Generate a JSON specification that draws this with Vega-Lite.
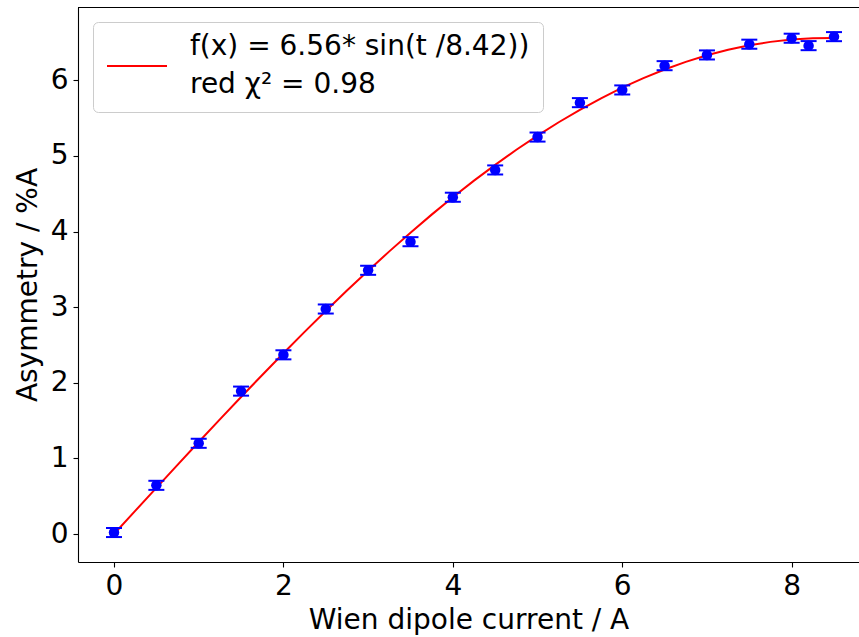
{
  "$schema": "https://vega.github.io/schema/vega-lite/v6.json",
  "width": 781,
  "height": 555,
  "autosize": "none",
  "padding": {"left": 78, "top": 7, "right": 0, "bottom": 75},
  "background": "white",
  "config": {
    "view": {"stroke": null},
    "font": "DejaVu Sans",
    "axis": {
      "domainColor": "black",
      "domainWidth": 1.1,
      "tickColor": "black",
      "tickWidth": 1.1,
      "tickSize": 5,
      "labelFont": "DejaVu Sans",
      "labelFontSize": 28,
      "labelColor": "black",
      "labelPadding": 5,
      "titleFont": "DejaVu Sans",
      "titleFontSize": 28,
      "titleFontWeight": "normal",
      "titleColor": "black",
      "grid": false
    }
  },
  "datasets": {
    "pts": [
      {"x": 0, "y": 0.02, "err": 0.06},
      {"x": 0.5, "y": 0.644, "err": 0.06},
      {"x": 1, "y": 1.2, "err": 0.06},
      {"x": 1.5, "y": 1.89, "err": 0.06},
      {"x": 2, "y": 2.37, "err": 0.06},
      {"x": 2.5, "y": 2.976, "err": 0.06},
      {"x": 3, "y": 3.488, "err": 0.06},
      {"x": 3.5, "y": 3.866, "err": 0.06},
      {"x": 4, "y": 4.454, "err": 0.06},
      {"x": 4.5, "y": 4.815, "err": 0.06},
      {"x": 5, "y": 5.25, "err": 0.06},
      {"x": 5.5, "y": 5.705, "err": 0.06},
      {"x": 6, "y": 5.873, "err": 0.06},
      {"x": 6.5, "y": 6.194, "err": 0.06},
      {"x": 7, "y": 6.336, "err": 0.06},
      {"x": 7.5, "y": 6.478, "err": 0.06},
      {"x": 8, "y": 6.557, "err": 0.06},
      {"x": 8.2, "y": 6.459, "err": 0.06},
      {"x": 8.5, "y": 6.578, "err": 0.06}
    ],
    "fit": [
      {"x": 0, "y": 0, "series": "fit"},
      {"x": 0.25, "y": 0.3058, "series": "fit"},
      {"x": 0.5, "y": 0.6111, "series": "fit"},
      {"x": 0.75, "y": 0.9148, "series": "fit"},
      {"x": 1, "y": 1.2166, "series": "fit"},
      {"x": 1.25, "y": 1.5159, "series": "fit"},
      {"x": 1.5, "y": 1.8119, "series": "fit"},
      {"x": 1.75, "y": 2.1038, "series": "fit"},
      {"x": 2, "y": 2.3913, "series": "fit"},
      {"x": 2.25, "y": 2.6734, "series": "fit"},
      {"x": 2.5, "y": 2.9498, "series": "fit"},
      {"x": 2.75, "y": 3.2198, "series": "fit"},
      {"x": 3, "y": 3.4827, "series": "fit"},
      {"x": 3.25, "y": 3.7381, "series": "fit"},
      {"x": 3.5, "y": 3.9854, "series": "fit"},
      {"x": 3.75, "y": 4.224, "series": "fit"},
      {"x": 4, "y": 4.4534, "series": "fit"},
      {"x": 4.25, "y": 4.6732, "series": "fit"},
      {"x": 4.5, "y": 4.8827, "series": "fit"},
      {"x": 4.75, "y": 5.0816, "series": "fit"},
      {"x": 5, "y": 5.2695, "series": "fit"},
      {"x": 5.25, "y": 5.446, "series": "fit"},
      {"x": 5.5, "y": 5.6105, "series": "fit"},
      {"x": 5.75, "y": 5.7629, "series": "fit"},
      {"x": 6, "y": 5.9028, "series": "fit"},
      {"x": 6.25, "y": 6.0298, "series": "fit"},
      {"x": 6.5, "y": 6.1437, "series": "fit"},
      {"x": 6.75, "y": 6.2442, "series": "fit"},
      {"x": 7, "y": 6.3312, "series": "fit"},
      {"x": 7.25, "y": 6.4044, "series": "fit"},
      {"x": 7.5, "y": 6.4636, "series": "fit"},
      {"x": 7.75, "y": 6.5088, "series": "fit"},
      {"x": 8, "y": 6.5399, "series": "fit"},
      {"x": 8.25, "y": 6.5567, "series": "fit"},
      {"x": 8.5, "y": 6.5593, "series": "fit"}
    ],
    "frame": [{"x": 0, "y": 6.9634}]
  },
  "layer": [
    {
      "data": {"name": "frame"},
      "mark": {"type": "rule", "color": "black", "strokeWidth": 1.1},
      "encoding": {
        "y": {
          "field": "y", "type": "quantitative",
          "scale": {"domain": [-0.37, 6.97], "nice": false, "zero": false},
          "axis": {"orient": "left", "values": [0, 1, 2, 3, 4, 5, 6], "title": "Asymmetry / %A", "titlePadding": 8}
        }
      }
    },
    {
      "data": {"name": "fit"},
      "mark": {"type": "line", "strokeWidth": 2},
      "encoding": {
        "x": {
          "field": "x", "type": "quantitative",
          "scale": {"domain": [-0.425, 8.795], "nice": false, "zero": false},
          "axis": {"orient": "bottom", "values": [0, 2, 4, 6, 8], "title": "Wien dipole current / A", "titlePadding": 6}
        },
        "y": {
          "field": "y", "type": "quantitative",
          "axis": {"orient": "left", "values": [0, 1, 2, 3, 4, 5, 6], "title": "Asymmetry / %A", "titlePadding": 8}
        },
        "color": {
          "field": "series", "type": "nominal",
          "scale": {"domain": ["fit"], "range": ["red"]},
          "legend": {
            "orient": "top-left",
            "offset": 15,
            "title": null,
            "symbolType": "stroke",
            "symbolSize": 3600,
            "symbolStrokeWidth": 2,
            "labelFont": "DejaVu Sans",
            "labelFontSize": 28,
            "labelColor": "black",
            "labelOffset": 22,
            "labelLimit": 600,
            "padding": 13,
            "fillColor": "rgba(255,255,255,0.8)",
            "strokeColor": "#cccccc",
            "cornerRadius": 5,
            "labelExpr": "['f(x) = 6.56* sin(t /8.42))', 'red χ² = 0.98']",
            "encode": {"labels": {"update": {"lineHeight": {"value": 38}, "dy": {"value": -19}}}}
          }
        }
      }
    },
    {
      "data": {"name": "pts"},
      "mark": {"type": "errorbar", "ticks": {"size": 16, "thickness": 2, "color": "blue", "opacity": 1}, "thickness": 1.5, "color": "blue", "opacity": 1},
      "encoding": {
        "x": {
          "field": "x", "type": "quantitative",
          "axis": {"orient": "bottom", "values": [0, 2, 4, 6, 8], "title": "Wien dipole current / A", "titlePadding": 6}
        },
        "y": {
          "field": "y", "type": "quantitative",
          "axis": {"orient": "left", "values": [0, 1, 2, 3, 4, 5, 6], "title": "Asymmetry / %A", "titlePadding": 8}
        },
        "yError": {"field": "err"}
      }
    },
    {
      "data": {"name": "pts"},
      "mark": {"type": "point", "filled": true, "shape": "circle", "size": 110, "color": "blue", "opacity": 1},
      "encoding": {
        "x": {
          "field": "x", "type": "quantitative",
          "axis": {"orient": "bottom", "values": [0, 2, 4, 6, 8], "title": "Wien dipole current / A", "titlePadding": 6}
        },
        "y": {
          "field": "y", "type": "quantitative",
          "axis": {"orient": "left", "values": [0, 1, 2, 3, 4, 5, 6], "title": "Asymmetry / %A", "titlePadding": 8}
        }
      }
    }
  ]
}
